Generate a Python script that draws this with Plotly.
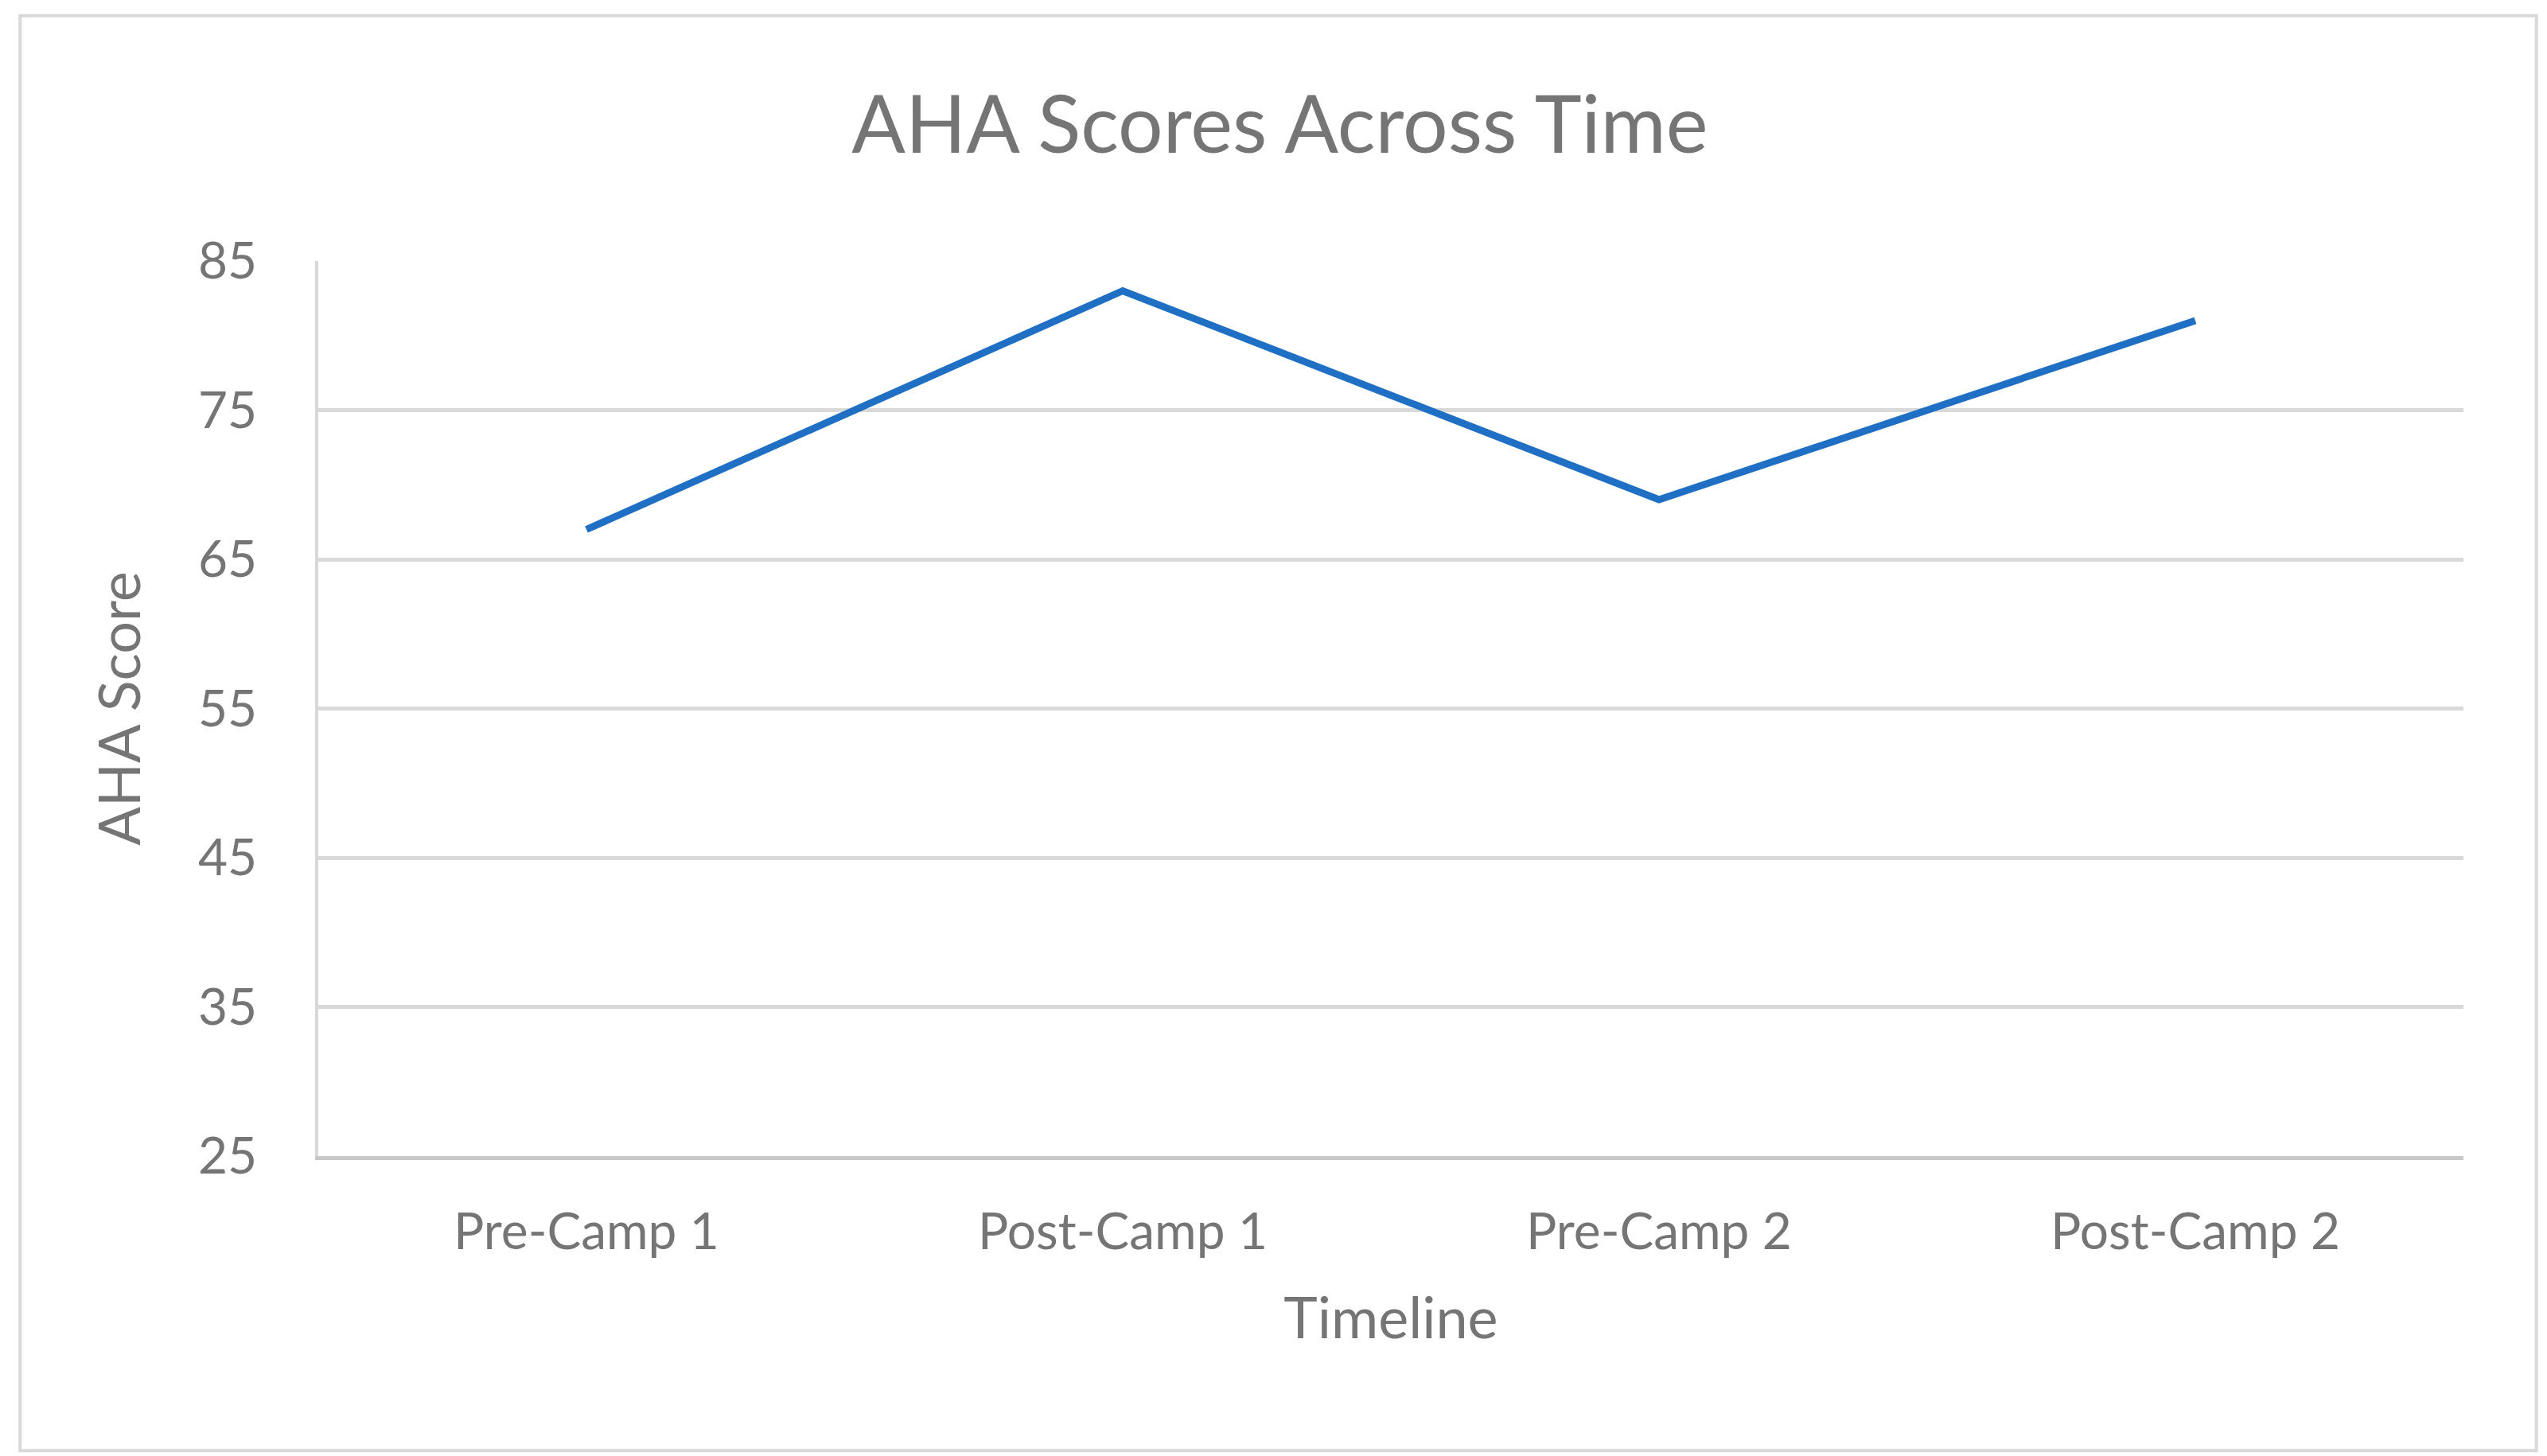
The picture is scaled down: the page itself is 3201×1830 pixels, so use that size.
import plotly.graph_objects as go

timeline = ["Pre-Camp 1", "Post-Camp 1", "Pre-Camp 2", "Post-Camp 2"]
aha_score = [67, 83, 69, 81]
y_ticks = [25, 35, 45, 55, 65, 75, 85]

grey = "#757575"
font = "Lato, Open Sans, sans-serif"

fig = go.Figure()
fig.add_trace(go.Scatter(
    x=timeline, y=aha_score, mode="lines",
    line=dict(color="#1f6fc5", width=9),
))

fig.update_layout(
    width=3201, height=1830,
    paper_bgcolor="white", plot_bgcolor="white",
    margin=dict(l=392, r=113, t=320, b=385),
    showlegend=False,
    font=dict(family=font, color=grey),
    title=dict(text="AHA Scores Across Time", x=0.5, xanchor="center",
               y=1 - 149 / 1830, yanchor="middle", yref="container",
               font=dict(size=100, color=grey)),
    xaxis=dict(
        range=[-0.5, 3.5], showgrid=False, showline=True,
        linecolor="#c8c8c8", linewidth=5, ticks="",
        tickfont=dict(size=64, color=grey), ticklabelstandoff=35,
        title=dict(text="Timeline", font=dict(size=72, color=grey), standoff=50),
    ),
    yaxis=dict(
        range=[25, 85], tickvals=y_ticks, showgrid=True,
        gridcolor="#d9d9d9", gridwidth=5, zeroline=False,
        showline=True, linecolor="#d9d9d9", linewidth=4, ticks="",
        tickfont=dict(size=64, color=grey), ticklabelstandoff=60,
        title=dict(text="AHA Score", font=dict(size=72, color=grey), standoff=50),
    ),
    shapes=[dict(type="rect", xref="paper", yref="paper",
                 x0=-0.139, x1=1.034, y0=-0.329, y1=1.274,
                 line=dict(color="#d9d9d9", width=4))],
)

fig.write_html("out.html")
